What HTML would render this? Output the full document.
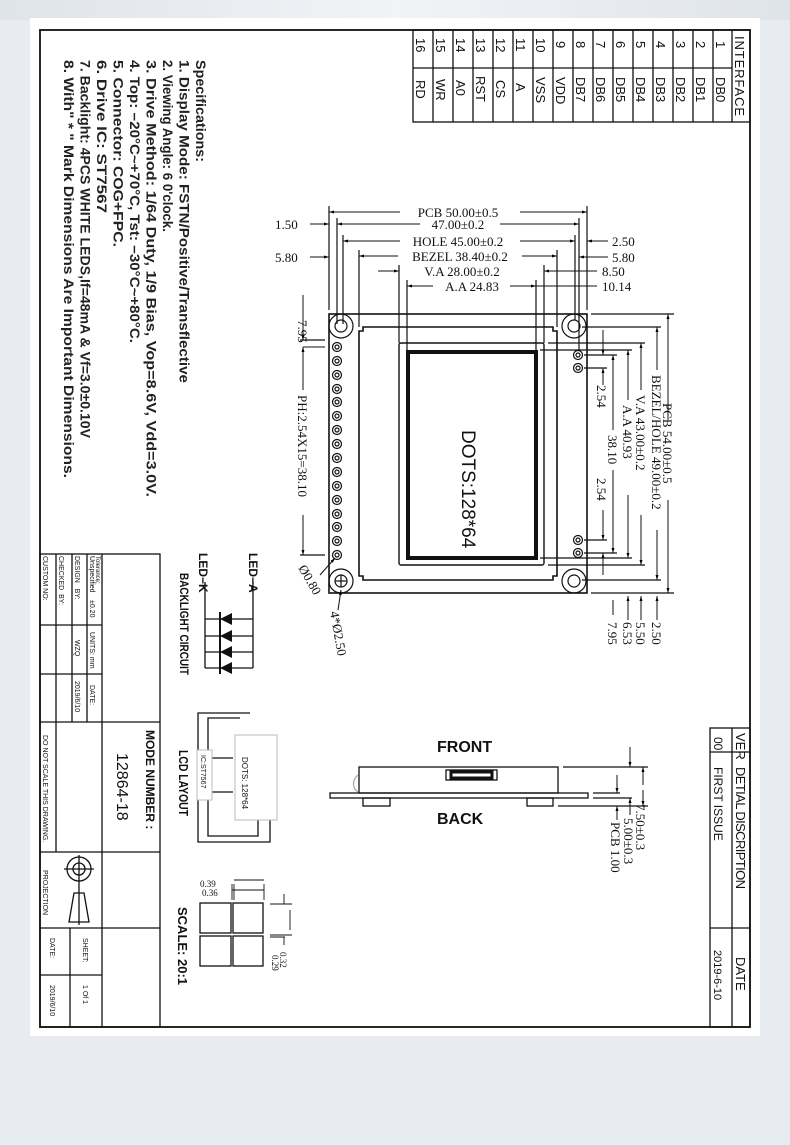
<!DOCTYPE html>
<html><head><meta charset="utf-8"><style>
html,body{margin:0;padding:0;}
body{width:790px;height:1145px;background:#e9ecf1;overflow:hidden;}
svg{display:block;}
.s{font-family:"Liberation Sans",sans-serif;}
.r{font-family:"Liberation Serif",serif;}
</style></head><body>
<svg width="790" height="1145" viewBox="0 0 790 1145" xmlns="http://www.w3.org/2000/svg">
<defs>
<linearGradient id="bg" x1="0" y1="0" x2="1" y2="0"><stop offset="0" stop-color="#dfe4ea"/><stop offset="0.5" stop-color="#f1f3f6"/><stop offset="1" stop-color="#dfe4ea"/></linearGradient>
<marker id="a" viewBox="0 0 10 10" refX="10" refY="5" markerWidth="7" markerHeight="5" orient="auto-start-reverse"><path d="M0,2 L10,5 L0,8z" fill="#000"/></marker>
</defs>
<rect width="790" height="1145" fill="#e8ebf0"/>
<rect width="790" height="20" fill="url(#bg)"/>
<rect x="30" y="18" width="730" height="1018" fill="#fff"/>
<g fill="none" stroke="#111" stroke-width="1.3">
<rect x="40" y="30" width="710" height="997" stroke-width="1.8"/>
<rect x="413" y="30" width="337" height="92"/>
<line x1="413" y1="68" x2="732" y2="68"/>
<line x1="433" y1="30" x2="433" y2="122"/><line x1="453" y1="30" x2="453" y2="122"/><line x1="473" y1="30" x2="473" y2="122"/><line x1="493" y1="30" x2="493" y2="122"/><line x1="513" y1="30" x2="513" y2="122"/><line x1="533" y1="30" x2="533" y2="122"/><line x1="553" y1="30" x2="553" y2="122"/><line x1="573" y1="30" x2="573" y2="122"/><line x1="593" y1="30" x2="593" y2="122"/><line x1="613" y1="30" x2="613" y2="122"/><line x1="633" y1="30" x2="633" y2="122"/><line x1="653" y1="30" x2="653" y2="122"/><line x1="673" y1="30" x2="673" y2="122"/><line x1="693" y1="30" x2="693" y2="122"/><line x1="713" y1="30" x2="713" y2="122"/><line x1="732" y1="30" x2="732" y2="122"/>
<rect x="710" y="728" width="40" height="299"/>
<line x1="732" y1="728" x2="732" y2="1027"/>
<line x1="710" y1="752" x2="750" y2="752"/>
<line x1="710" y1="928" x2="750" y2="928"/>
<rect x="40" y="554" width="120" height="473"/>
<line x1="40" y1="625" x2="102" y2="625"/>
<line x1="40" y1="674" x2="102" y2="674"/>
<line x1="40" y1="722" x2="160" y2="722"/>
<line x1="40" y1="852" x2="160" y2="852"/>
<line x1="40" y1="928" x2="160" y2="928"/>
<line x1="102" y1="554" x2="102" y2="1027"/>
<line x1="87" y1="554" x2="87" y2="722"/>
<line x1="72" y1="554" x2="72" y2="722"/>
<line x1="56" y1="554" x2="56" y2="852"/>
<line x1="70" y1="928" x2="70" y2="1027"/>
<line x1="70" y1="975" x2="102" y2="975"/>
<line x1="40" y1="975" x2="70" y2="975"/>
<circle cx="79" cy="869" r="12"/><circle cx="79" cy="869" r="6"/>
<line x1="79" y1="855" x2="79" y2="925"/><line x1="64" y1="869" x2="94" y2="869"/>
<path d="M74,893 L84,893 L89,922 L69,922 Z"/>
</g>
<g class="s" font-size="13" fill="#111">
<text x="735" y="36" transform="rotate(90 735 36)" textLength="80">INTERFACE</text>
<text transform="translate(716,41) rotate(90)">1</text><text transform="translate(716,77) rotate(90)">DB0</text>
<text transform="translate(696,41) rotate(90)">2</text><text transform="translate(696,77) rotate(90)">DB1</text>
<text transform="translate(676,41) rotate(90)">3</text><text transform="translate(676,77) rotate(90)">DB2</text>
<text transform="translate(656,41) rotate(90)">4</text><text transform="translate(656,77) rotate(90)">DB3</text>
<text transform="translate(636,41) rotate(90)">5</text><text transform="translate(636,77) rotate(90)">DB4</text>
<text transform="translate(616,41) rotate(90)">6</text><text transform="translate(616,77) rotate(90)">DB5</text>
<text transform="translate(596,41) rotate(90)">7</text><text transform="translate(596,77) rotate(90)">DB6</text>
<text transform="translate(576,41) rotate(90)">8</text><text transform="translate(576,77) rotate(90)">DB7</text>
<text transform="translate(556,41) rotate(90)">9</text><text transform="translate(556,77) rotate(90)">VDD</text>
<text transform="translate(536,38) rotate(90)">10</text><text transform="translate(536,77) rotate(90)">VSS</text>
<text transform="translate(516,38) rotate(90)">11</text><text transform="translate(516,83) rotate(90)">A</text>
<text transform="translate(496,38) rotate(90)">12</text><text transform="translate(496,80) rotate(90)">CS</text>
<text transform="translate(476,38) rotate(90)">13</text><text transform="translate(476,76) rotate(90)">RST</text>
<text transform="translate(456,38) rotate(90)">14</text><text transform="translate(456,80) rotate(90)">A0</text>
<text transform="translate(436,38) rotate(90)">15</text><text transform="translate(436,79) rotate(90)">WR</text>
<text transform="translate(416,38) rotate(90)">16</text><text transform="translate(416,80) rotate(90)">RD</text>
<text transform="translate(736,733) rotate(90)">VER</text>
<text transform="translate(736,767) rotate(90)" textLength="122">DETIAL DISCRIPTION</text>
<text transform="translate(736,957) rotate(90)">DATE</text>
<text transform="translate(714,737) rotate(90)" font-size="12">00</text>
<text transform="translate(714,767) rotate(90)" font-size="12">FIRST ISSUE</text>
<text transform="translate(714,950) rotate(90)" font-size="11">2019-6-10</text>
</g>
<g class="s" font-size="13.5" font-weight="bold" fill="#222">
<text transform="translate(196,60) rotate(90)" textLength="102" lengthAdjust="spacingAndGlyphs">Specifications:</text>
<text transform="translate(179.5,60) rotate(90)" textLength="323" lengthAdjust="spacingAndGlyphs">1. Display Mode: FSTN/Positive/Transflective</text>
<text transform="translate(163,60) rotate(90)" textLength="172" lengthAdjust="spacingAndGlyphs">2. Viewing Angle:  6 0'clock.</text>
<text transform="translate(146.5,60) rotate(90)" textLength="437" lengthAdjust="spacingAndGlyphs">3. Drive Method: 1/64 Duty, 1/9 Bias, Vop=8.6V, Vdd=3.0V.</text>
<text transform="translate(130,60) rotate(90)" textLength="283" lengthAdjust="spacingAndGlyphs">4. Top: −20°C~+70°C, Tst: −30°C~+80°C.</text>
<text transform="translate(113.5,60) rotate(90)" textLength="187" lengthAdjust="spacingAndGlyphs">5. Connector:   COG+FPC.</text>
<text transform="translate(97,60) rotate(90)" textLength="153" lengthAdjust="spacingAndGlyphs">6. Drive IC: ST7567</text>
<text transform="translate(80.5,60) rotate(90)" textLength="378" lengthAdjust="spacingAndGlyphs">7. Backlight: 4PCS WHITE LEDS,If=48mA &amp; Vf=3.0±0.10V</text>
<text transform="translate(64,60) rotate(90)" textLength="418" lengthAdjust="spacingAndGlyphs">8. With" * " Mark Dimensions Are Important Dimensions.</text>
</g>
<g class="s" fill="#111" font-size="7">
<text transform="translate(90,556) rotate(90)">Unspecified</text>
<text transform="translate(96,556) rotate(90)" font-size="6">Tolerance:</text>
<text transform="translate(90,600) rotate(90)">±0.20</text>
<text transform="translate(75,556) rotate(90)">DESIGN&#160;&#160;&#160;BY:</text>
<text transform="translate(59,556) rotate(90)">CHECKED&#160;&#160;BY:</text>
<text transform="translate(43,556) rotate(90)">CUSTOM NO:</text>
<text transform="translate(90,632) rotate(90)">UNITS: mm</text>
<text transform="translate(75,640) rotate(90)">WZQ</text>
<text transform="translate(90,685) rotate(90)">DATE:</text>
<text transform="translate(75,681) rotate(90)">2019/6/10</text>
<text transform="translate(43,735) rotate(90)">DO NOT SCALE THIS DRAWING.</text>
<text transform="translate(43,870) rotate(90)">PROJECTION</text>
<text transform="translate(83,938) rotate(90)">SHEET:</text>
<text transform="translate(83,985) rotate(90)">1 Of 1</text>
<text transform="translate(50,938) rotate(90)">DATE:</text>
<text transform="translate(50,985) rotate(90)">2019/6/10</text>
<text transform="translate(146,730) rotate(90)" font-size="12" font-weight="bold">MODE NUMBER :</text>
<text transform="translate(117,753) rotate(90)" font-size="16">12864-18</text>
</g>
<g fill="none" stroke="#111" stroke-width="1.2">
<rect x="329" y="314" width="258" height="279" stroke-width="1.6"/>
<path d="M363,327 H553 V331 H557 V576 H553 V580 H363 V576 H359 V331 H363Z" stroke-width="1.6"/>
<rect x="399" y="343" width="145" height="222" rx="2" stroke-width="1.4"/>
<rect x="408" y="352" width="128" height="206" stroke-width="4"/>
<circle cx="341" cy="326" r="12"/><circle cx="341" cy="326" r="6"/>
<circle cx="574" cy="326" r="12"/><circle cx="574" cy="326" r="6"/>
<circle cx="341" cy="581" r="12"/><circle cx="341" cy="581" r="6"/>
<circle cx="574" cy="581" r="12"/><circle cx="574" cy="581" r="6"/>
<line x1="335" y1="581" x2="347" y2="581"/><line x1="341" y1="575" x2="341" y2="587"/>
<circle cx="337" cy="347" r="4.5"/><circle cx="337" cy="347" r="2"/>
<circle cx="337" cy="361" r="4.5"/><circle cx="337" cy="361" r="2"/>
<circle cx="337" cy="375" r="4.5"/><circle cx="337" cy="375" r="2"/>
<circle cx="337" cy="389" r="4.5"/><circle cx="337" cy="389" r="2"/>
<circle cx="337" cy="402" r="4.5"/><circle cx="337" cy="402" r="2"/>
<circle cx="337" cy="416" r="4.5"/><circle cx="337" cy="416" r="2"/>
<circle cx="337" cy="430" r="4.5"/><circle cx="337" cy="430" r="2"/>
<circle cx="337" cy="444" r="4.5"/><circle cx="337" cy="444" r="2"/>
<circle cx="337" cy="458" r="4.5"/><circle cx="337" cy="458" r="2"/>
<circle cx="337" cy="472" r="4.5"/><circle cx="337" cy="472" r="2"/>
<circle cx="337" cy="486" r="4.5"/><circle cx="337" cy="486" r="2"/>
<circle cx="337" cy="500" r="4.5"/><circle cx="337" cy="500" r="2"/>
<circle cx="337" cy="514" r="4.5"/><circle cx="337" cy="514" r="2"/>
<circle cx="337" cy="527" r="4.5"/><circle cx="337" cy="527" r="2"/>
<circle cx="337" cy="541" r="4.5"/><circle cx="337" cy="541" r="2"/>
<circle cx="337" cy="555" r="4.5"/><circle cx="337" cy="555" r="2"/>
<circle cx="578" cy="355" r="4.5"/><circle cx="578" cy="355" r="2"/>
<circle cx="578" cy="368" r="4.5"/><circle cx="578" cy="368" r="2"/>
<circle cx="578" cy="540" r="4.5"/><circle cx="578" cy="540" r="2"/>
<circle cx="578" cy="553" r="4.5"/><circle cx="578" cy="553" r="2"/>
<path d="M329,310 V206 M587,310 V206 M337,324 V218 M579,350 V218 M343,324 V235 M575,320 V235 M359,327 V250 M557,327 V250 M399,343 V265 M544,343 V265 M407,350 V280 M536,350 V280"/>
<path d="M591,314 H674 M591,593 H674 M582,327 H661 M582,580 H661 M548,343 H645 M548,565 H645 M540,350 H632 M540,558 H632 M584,355 H617 M584,553 H617 M584,368 H607 M584,540 H607"/>
<path d="M325,340 H300 M325,555 H300"/>
</g>
<g stroke="#111" stroke-width="1" fill="none">
<line x1="400" y1="212" x2="329" y2="212" marker-end="url(#a)"/><line x1="520" y1="212" x2="587" y2="212" marker-end="url(#a)"/>
<line x1="420" y1="224" x2="337" y2="224" marker-end="url(#a)"/><line x1="500" y1="224" x2="579" y2="224" marker-end="url(#a)"/>
<line x1="400" y1="241" x2="343" y2="241" marker-end="url(#a)"/><line x1="520" y1="241" x2="575" y2="241" marker-end="url(#a)"/>
<line x1="398" y1="256" x2="359" y2="256" marker-end="url(#a)"/><line x1="522" y1="256" x2="557" y2="256" marker-end="url(#a)"/>
<line x1="378" y1="271" x2="399" y2="271" marker-end="url(#a)"/><line x1="580" y1="271" x2="544" y2="271" marker-end="url(#a)"/>
<line x1="433" y1="286" x2="407" y2="286" marker-end="url(#a)"/><line x1="510" y1="286" x2="536" y2="286" marker-end="url(#a)"/>
<line x1="597" y1="286" x2="536" y2="286"/><line x1="597" y1="271" x2="544" y2="271"/>
<line x1="310" y1="224" x2="329" y2="224" marker-end="url(#a)"/>
<line x1="310" y1="257" x2="329" y2="257" marker-end="url(#a)"/>
<line x1="608" y1="241" x2="587" y2="241" marker-end="url(#a)"/>
<line x1="608" y1="257" x2="579" y2="257" marker-end="url(#a)"/>
<line x1="668" y1="420" x2="668" y2="314" marker-end="url(#a)"/><line x1="668" y1="500" x2="668" y2="593" marker-end="url(#a)"/>
<line x1="657" y1="370" x2="657" y2="327" marker-end="url(#a)"/><line x1="657" y1="530" x2="657" y2="580" marker-end="url(#a)"/>
<line x1="641" y1="390" x2="641" y2="343" marker-end="url(#a)"/><line x1="641" y1="515" x2="641" y2="565" marker-end="url(#a)"/>
<line x1="628" y1="400" x2="628" y2="350" marker-end="url(#a)"/><line x1="628" y1="495" x2="628" y2="558" marker-end="url(#a)"/>
<line x1="613" y1="430" x2="613" y2="355" marker-end="url(#a)"/><line x1="613" y1="470" x2="613" y2="553" marker-end="url(#a)"/>
<line x1="603" y1="330" x2="603" y2="355" marker-end="url(#a)"/><line x1="603" y1="385" x2="603" y2="368" marker-end="url(#a)"/>
<line x1="603" y1="510" x2="603" y2="540" marker-end="url(#a)"/><line x1="603" y1="575" x2="603" y2="553" marker-end="url(#a)"/>
<line x1="657" y1="620" x2="657" y2="596" marker-end="url(#a)"/>
<line x1="641" y1="620" x2="641" y2="596" marker-end="url(#a)"/>
<line x1="628" y1="620" x2="628" y2="596" marker-end="url(#a)"/>
<line x1="613" y1="600" x2="613" y2="615"/>
<line x1="303" y1="295" x2="303" y2="340" marker-end="url(#a)"/>
<line x1="303" y1="390" x2="303" y2="347" marker-end="url(#a)"/>
<line x1="303" y1="515" x2="303" y2="555" marker-end="url(#a)"/>
<line x1="303" y1="347" x2="325" y2="347"/>
<line x1="320" y1="575" x2="335" y2="558" marker-end="url(#a)"/>
<line x1="338" y1="610" x2="341" y2="590" marker-end="url(#a)"/>
</g>
<g class="r" font-size="13" fill="#111">
<text x="458" y="217" text-anchor="middle">PCB 50.00±0.5</text>
<text x="458" y="229" text-anchor="middle">47.00±0.2</text>
<text x="458" y="246" text-anchor="middle">HOLE 45.00±0.2</text>
<text x="460" y="261" text-anchor="middle">BEZEL 38.40±0.2</text>
<text x="462" y="276" text-anchor="middle">V.A 28.00±0.2</text>
<text x="472" y="291" text-anchor="middle">A.A 24.83</text>
<text x="275" y="229">1.50</text><text x="275" y="262">5.80</text>
<text x="612" y="246">2.50</text><text x="612" y="262">5.80</text>
<text x="602" y="276">8.50</text><text x="602" y="291">10.14</text>
<text transform="translate(663,403) rotate(90)">PCB 54.00±0.5</text>
<text transform="translate(652,375) rotate(90)">BEZEL/HOLE 49.00±0.2</text>
<text transform="translate(636,395) rotate(90)">V.A 43.00±0.2</text>
<text transform="translate(623,405) rotate(90)">A.A 40.93</text>
<text transform="translate(608,435) rotate(90)">38.10</text>
<text transform="translate(597,385) rotate(90)">2.54</text>
<text transform="translate(597,478) rotate(90)">2.54</text>
<text transform="translate(652,622) rotate(90)">2.50</text>
<text transform="translate(636,622) rotate(90)">5.50</text>
<text transform="translate(623,622) rotate(90)">6.53</text>
<text transform="translate(608,622) rotate(90)">7.95</text>
<text transform="translate(298,320) rotate(90)">7.95</text>
<text transform="translate(298,395) rotate(90)">PH:2.54X15=38.10</text>
<text transform="translate(298,568) rotate(60)">Ø0.80</text>
<text transform="translate(330,612) rotate(80)">4*Ø2.50</text>
<text transform="translate(636,804) rotate(90)">7.50±0.3</text>
<text transform="translate(624,818) rotate(90)">5.00±0.3</text>
<text transform="translate(611,822) rotate(90)">PCB 1.00</text>
</g>
<text class="s" transform="translate(462,430) rotate(90)" font-size="19" fill="#111">DOTS:128*64</text>
<g fill="none" stroke="#111" stroke-width="1.3">
<rect x="359" y="767" width="199" height="26"/>
<rect x="330" y="793" width="258" height="5"/>
<rect x="363" y="798" width="27" height="8"/>
<rect x="527" y="798" width="26" height="8"/>
<rect x="446" y="770" width="51" height="10"/>
<rect x="451" y="772" width="41" height="6" stroke-width="3"/>
<path d="M563,767 H648 M593,793 H620 M593,798 H632 M558,806 H648"/>
<path d="M358,775 C352,780 352,788 358,792" stroke="#aaa"/>
</g>
<g stroke="#111" stroke-width="1" fill="none">
<line x1="630" y1="747" x2="630" y2="767" marker-end="url(#a)"/>
<line x1="643" y1="785" x2="643" y2="767" marker-end="url(#a)"/><line x1="643" y1="790" x2="643" y2="806" marker-end="url(#a)"/>
<line x1="617" y1="775" x2="617" y2="793" marker-end="url(#a)"/><line x1="617" y1="820" x2="617" y2="806" marker-end="url(#a)"/>
<line x1="630" y1="815" x2="630" y2="798" marker-end="url(#a)"/>
</g>
<g class="s" font-weight="bold" fill="#111" font-size="16">
<text x="437" y="752">FRONT</text>
<text x="437" y="824">BACK</text>
</g>
<g stroke="#111" stroke-width="1.3" fill="none">
<line x1="253" y1="582" x2="253" y2="668"/>
<line x1="205" y1="582" x2="205" y2="668"/>
<line x1="205" y1="619" x2="253" y2="619"/><line x1="205" y1="636" x2="253" y2="636"/>
<line x1="205" y1="652" x2="253" y2="652"/><line x1="205" y1="668" x2="253" y2="668"/>
</g>
<g fill="#111">
<path d="M232,613 L232,625 L220,619Z"/>
<path d="M232,630 L232,642 L220,636Z"/>
<path d="M232,646 L232,658 L220,652Z"/>
<path d="M232,662 L232,674 L220,668Z"/>
<rect x="219" y="612" width="2" height="62"/>
</g>
<g class="s" font-weight="bold" fill="#111" font-size="12">
<text transform="translate(249,553) rotate(90)">LED−A</text>
<text transform="translate(199,553) rotate(90)">LED−K</text>
<text transform="translate(180,573) rotate(90)" textLength="102" lengthAdjust="spacingAndGlyphs">BACKLIGHT  CIRCUIT</text>
<text transform="translate(179,750) rotate(90)" font-size="13" textLength="66" lengthAdjust="spacingAndGlyphs">LCD  LAYOUT</text>
<text transform="translate(178,907) rotate(90)" font-size="13">SCALE: 20:1</text>
</g>
<g fill="none" stroke="#111" stroke-width="1.3">
<path d="M250,713 H198 V842 H270 V820"/>
<path d="M240,718 H208 V836 H258 V820"/>
<line x1="212" y1="758" x2="233" y2="758"/><line x1="212" y1="792" x2="233" y2="792"/>
</g>
<rect x="235" y="735" width="42" height="85" fill="#fff" stroke="#bbb"/>
<rect x="197" y="750" width="15" height="50" fill="#fff" stroke="#bbb"/>
<g class="s" fill="#111">
<text transform="translate(242,757) rotate(90)" font-size="8">DOTS: 128*64</text>
<text transform="translate(201,755) rotate(90)" font-size="7">IC:ST7567</text>
</g>
<g fill="none" stroke="#111" stroke-width="1.3">
<rect x="200" y="903" width="31" height="30"/><rect x="233" y="903" width="30" height="30"/>
<rect x="200" y="936" width="31" height="30"/><rect x="233" y="936" width="30" height="30"/>
</g>
<g stroke="#111" stroke-width="0.9" fill="none">
<path d="M232,884 V900 M264,884 V900 M234,900 V884 M232,890 H264 M234,880 H264 M270,935 H292 M270,937 H285 M270,904 H292 M284,894 V904 M284,945 V937 M290,910 V930"/>
</g>
<g class="r" font-size="9" fill="#111">
<text x="200" y="887">0.39</text><text x="202" y="896">0.36</text>
<text transform="translate(280,952) rotate(90)">0.32</text>
<text transform="translate(272,955) rotate(90)">0.29</text>
</g>
</svg>
</body></html>
